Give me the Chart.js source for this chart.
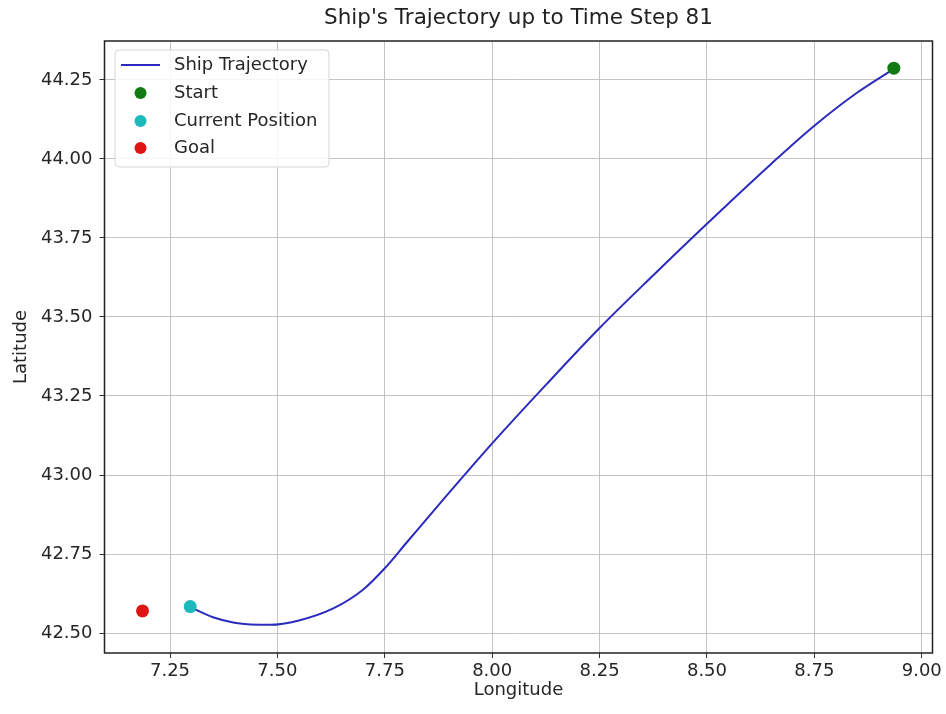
<!DOCTYPE html>
<html>
<head>
<meta charset="utf-8">
<script src="https://cdn.jsdelivr.net/npm/chart.js@4/dist/chart.umd.min.js"></script>
<style>
html,body{margin:0;padding:0;background:#fff;}
#wrap{width:946px;height:714px;position:relative;}
</style>
</head>
<body>
<div id="wrap"><canvas id="c" width="946" height="714"></canvas></div>
<script>
// ---- data ----
const titleText = "Ship's Trajectory up to Time Step 81";
const xLabel = "Longitude";
const yLabel = "Latitude";
const seriesLabels = ["Ship Trajectory", "Start", "Current Position", "Goal"];
const trajLon = [8.935, 8.85, 8.75, 8.65, 8.50, 8.375, 8.25, 8.125, 8.00, 7.875, 7.80, 7.75, 7.70, 7.63, 7.55, 7.483, 7.40, 7.35, 7.297];
const trajLat = [44.285, 44.21, 44.105, 43.985, 43.795, 43.632, 43.465, 43.285, 43.10, 42.905, 42.785, 42.705, 42.638, 42.578, 42.54, 42.526, 42.533, 42.55, 42.582];
const startPt = [8.935, 44.287];
const currentPt = [7.297, 42.584];
const goalPt = [7.186, 42.570];
const xTicks = [7.25, 7.50, 7.75, 8.00, 8.25, 8.50, 8.75, 9.00];
const yTicks = [42.50, 42.75, 43.00, 43.25, 43.50, 43.75, 44.00, 44.25];
const xRange = [7.0975, 9.025];
const yRange = [42.437, 44.373];

const FONT = "'DejaVu Sans', sans-serif";
const trajPoints = trajLon.map((v, i) => ({x: v, y: trajLat[i]}));

const boxPlugin = {
  id: 'box',
  afterDatasetsDraw(chart) {
    const {ctx, chartArea: a} = chart;
    ctx.save();
    ctx.strokeStyle = '#222';
    ctx.lineWidth = 1.5;
    ctx.strokeRect(a.left, a.top, a.right - a.left, a.bottom - a.top);
    ctx.restore();
  },
  afterDraw(chart) {
    const ctx = chart.ctx;
    const a = chart.chartArea;
    const ds = chart.data.datasets;
    ctx.save();
    // title centred over the axes
    ctx.font = "21.5px " + FONT;
    ctx.fillStyle = '#222';
    ctx.textAlign = 'center';
    ctx.textBaseline = 'middle';
    ctx.fillText(titleText, (a.left + a.right) / 2, 18);
    // legend
    const bx = 115, by = 50, bw = 214, bh = 117;
    ctx.beginPath();
    ctx.roundRect(bx, by, bw, bh, 4);
    ctx.fillStyle = 'rgba(255,255,255,0.85)';
    ctx.fill();
    ctx.strokeStyle = '#d6d6d6';
    ctx.lineWidth = 1;
    ctx.stroke();
    const rows = [65, 93, 121, 148];
    ctx.font = "18px " + FONT;
    ctx.textBaseline = 'middle';
    ctx.textAlign = 'left';
    ds.forEach((d, i) => {
      const y = rows[i];
      if (i === 0) {
        ctx.strokeStyle = d.borderColor;
        ctx.lineWidth = 2;
        ctx.beginPath();
        ctx.moveTo(121, y);
        ctx.lineTo(160, y);
        ctx.stroke();
      } else {
        ctx.fillStyle = d.backgroundColor;
        ctx.beginPath();
        ctx.arc(140.5, y, 6, 0, Math.PI * 2);
        ctx.fill();
      }
      ctx.fillStyle = '#262626';
      ctx.fillText(d.label, 174, y);
    });
    ctx.restore();
  }
};

new Chart(document.getElementById('c'), {
  type: 'scatter',
  data: {
    datasets: [
      {label: seriesLabels[0], data: trajPoints, showLine: true, borderColor: '#2b2bbf', backgroundColor: '#2b2bbf', borderWidth: 2, pointRadius: 0, cubicInterpolationMode: 'monotone', order: 4},
      {label: seriesLabels[1], data: [{x: startPt[0], y: startPt[1]}], backgroundColor: '#127a12', borderWidth: 0, pointRadius: 6.5, order: 3},
      {label: seriesLabels[2], data: [{x: currentPt[0], y: currentPt[1]}], backgroundColor: '#1cb9bd', borderWidth: 0, pointRadius: 6.5, order: 2},
      {label: seriesLabels[3], data: [{x: goalPt[0], y: goalPt[1]}], backgroundColor: '#dd1515', borderWidth: 0, pointRadius: 6.5, order: 1}
    ]
  },
  options: {
    responsive: false,
    animation: false,
    events: [],
    layout: {padding: {left: 0, right: 13.5, top: 41, bottom: 0}},
    plugins: {
      legend: {display: false},
      tooltip: {enabled: false},
      title: {display: false}
    },
    scales: {
      x: {
        type: 'linear',
        min: xRange[0], max: xRange[1],
        afterBuildTicks: s => { s.ticks = xTicks.map(v => ({value: v})); },
        afterFit: s => { s.height = 61; },
        grid: {color: '#c4c4c4', lineWidth: 1, tickLength: 5, tickColor: '#333', drawTicks: true},
        border: {display: false},
        ticks: {color: '#262626', font: {family: FONT, size: 18}, padding: 3, maxRotation: 0, autoSkip: false, callback: v => v.toFixed(2)},
        title: {display: true, text: xLabel, color: '#262626', font: {family: FONT, size: 18, lineHeight: 1.2}, padding: {top: 0, bottom: 13}}
      },
      y: {
        type: 'linear',
        min: yRange[0], max: yRange[1],
        afterBuildTicks: s => { s.ticks = yTicks.map(v => ({value: v})); },
        afterFit: s => { s.width = 104.5; },
        grid: {color: '#c4c4c4', lineWidth: 1, tickLength: 5, tickColor: '#333', drawTicks: true},
        border: {display: false},
        ticks: {color: '#262626', font: {family: FONT, size: 18}, padding: 7, autoSkip: false, callback: v => v.toFixed(2)},
        title: {display: true, text: yLabel, color: '#262626', font: {family: FONT, size: 18, lineHeight: 1.2}, padding: {top: 11, bottom: 0}}
      }
    }
  },
  plugins: [boxPlugin]
});
</script>
</body>
</html>
